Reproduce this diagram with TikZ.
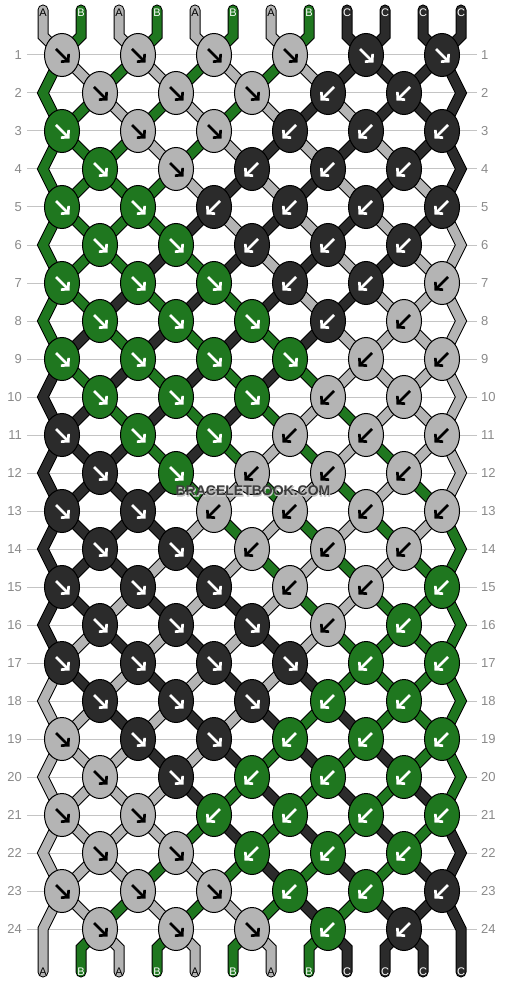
\documentclass[tikz,border=0pt]{standalone}
\usepackage{fontspec}
\setmainfont{Liberation Sans}
\newfontfamily\wmhalofont[FakeBold=4]{Liberation Sans Bold}
\usetikzlibrary{arrows.meta,shapes.geometric}
\definecolor{cola}{HTML}{B4B4B4}
\definecolor{colb}{HTML}{1F771F}
\definecolor{colc}{HTML}{2B2B2B}
\definecolor{arra}{HTML}{000000}
\definecolor{arrb}{HTML}{FFFFFF}
\definecolor{arrc}{HTML}{FFFFFF}
\definecolor{laba}{HTML}{000000}
\definecolor{labb}{HTML}{FFFFFF}
\definecolor{labc}{HTML}{FFFFFF}
\definecolor{gridc}{HTML}{C4C4C4}
\definecolor{numc}{HTML}{8A8A8A}
\definecolor{wmtext}{HTML}{3C3C3C}
\definecolor{wmhalo}{HTML}{C8C8C8}
\tikzset{
  knotshape/.style={ellipse, draw=black, line width=1pt, minimum width=35pt, minimum height=43pt, inner sep=0pt},
  strout/.style={line width=11pt, draw=black, line cap=round, line join=miter},
  strin/.style={line width=9pt, line cap=round, line join=miter},
  knotarrow/.style={line width=2.6pt, -{Straight Barb[length=5pt,width=11pt]}},
  rownum/.style={text=numc, font=\fontsize{13}{13}\selectfont, inner sep=0pt},
  endlabel/.style={font=\fontsize{11}{11}\selectfont, inner sep=0pt},
  gridline/.style={draw=gridc, line width=1pt},
  wm/.style={font=\bfseries\fontsize{14}{14}\selectfont, inner sep=0pt},
  wmh/.style={font=\wmhalofont\fontsize{14}{14}\selectfont, inner sep=0pt},
}
% build the path of the string that starts at position #1
\newcommand\stringpath[1]{%
  \xdef\curp{#1}%
  \xdef\plist{(top-#1) -- (tb-#1)}%
  \foreach \r in {1,...,24}{%
    \ifodd\r\relax
      \ifodd\curp\relax
        \pgfmathtruncatemacro\ki{(\curp+1)/2}\pgfmathtruncatemacro\np{\curp+1}%
      \else
        \pgfmathtruncatemacro\ki{\curp/2}\pgfmathtruncatemacro\np{\curp-1}%
      \fi
      \xdef\plist{\plist -- (k-\r-\ki)}%
    \else
      \ifnum\curp=1\relax
        \xdef\plist{\plist -- (eL-\r)}\def\np{1}%
      \else\ifnum\curp=12\relax
        \xdef\plist{\plist -- (eR-\r)}\def\np{12}%
      \else
        \ifodd\curp\relax
          \pgfmathtruncatemacro\ki{(\curp-1)/2}\pgfmathtruncatemacro\np{\curp-1}%
        \else
          \pgfmathtruncatemacro\ki{\curp/2}\pgfmathtruncatemacro\np{\curp+1}%
        \fi
        \xdef\plist{\plist -- (k-\r-\ki)}%
      \fi\fi
    \fi
    \xdef\curp{\np}%
  }%
  \xdef\plist{\plist -- (bb-\curp) -- (bot-\curp)}%
}
\begin{document}
\begin{tikzpicture}[x=1pt,y=-1pt]
\fill[white] (0,0) rectangle (506,984);
\useasboundingbox (0,0) rectangle (506,984);
% rows: grid lines, numbers, knot positions
\foreach \r in {1,...,24}{
  \pgfmathsetmacro\yy{55+38*(\r-1)}
  \ifodd\r\relax
    \foreach \i in {1,...,6}{\coordinate (k-\r-\i) at ({62+76*(\i-1)},\yy);}
  \else
    \foreach \i in {1,...,5}{\coordinate (k-\r-\i) at ({100+76*(\i-1)},\yy);}
  \fi
  \coordinate (eL-\r) at (43,\yy);
  \coordinate (eR-\r) at (461,\yy);
  \coordinate (gl-\r) at (27,\yy);
  \coordinate (gr-\r) at (477,\yy);
  \draw[gridline] (gl-\r) -- (gr-\r);
  \node[rownum, anchor=east] (nl-\r) at (22,\yy) {\r};
  \node[rownum, anchor=west] (nr-\r) at (481,\yy) {\r};
}
% string ends
\foreach \p in {1,...,12}{
  \pgfmathsetmacro\xx{43+38*(\p-1)}
  \coordinate (top-\p) at (\xx,10);
  \coordinate (tb-\p) at (\xx,36);
  \coordinate (bb-\p) at (\xx,948);
  \coordinate (bot-\p) at (\xx,972);
  \coordinate (tl-\p) at (\xx,13);
  \coordinate (bl-\p) at (\xx,971.5);
}
% strings
\foreach \p/\col in {1/cola,2/colb,3/cola,4/colb,5/cola,6/colb,7/cola,8/colb,9/colc,10/colc,11/colc,12/colc}{
  \stringpath{\p}
  \edef\tmp{\noexpand\draw[strout] \plist; \noexpand\draw[strin,draw=\col] \plist;}\tmp
}
% end labels
\foreach \p/\lab/\lc in {1/A/laba,2/B/labb,3/A/laba,4/B/labb,5/A/laba,6/B/labb,7/A/laba,8/B/labb,9/C/labc,10/C/labc,11/C/labc,12/C/labc}{
  \node[endlabel, text=\lc] (lt-\p) at (tl-\p) {\lab};
  \node[endlabel, text=\lc] (lb-\p) at (bl-\p) {\lab};
}
% knots
\foreach \row/\lst in {
 1/{a/R,a/R,a/R,a/R,c/R,c/R},
 2/{a/R,a/R,a/R,c/L,c/L},
 3/{b/R,a/R,a/R,c/L,c/L,c/L},
 4/{b/R,a/R,c/L,c/L,c/L},
 5/{b/R,b/R,c/L,c/L,c/L,c/L},
 6/{b/R,b/R,c/L,c/L,c/L},
 7/{b/R,b/R,b/R,c/L,c/L,a/L},
 8/{b/R,b/R,b/R,c/L,a/L},
 9/{b/R,b/R,b/R,b/R,a/L,a/L},
 10/{b/R,b/R,b/R,a/L,a/L},
 11/{c/R,b/R,b/R,a/L,a/L,a/L},
 12/{c/R,b/R,a/L,a/L,a/L},
 13/{c/R,c/R,a/L,a/L,a/L,a/L},
 14/{c/R,c/R,a/L,a/L,a/L},
 15/{c/R,c/R,c/R,a/L,a/L,b/L},
 16/{c/R,c/R,c/R,a/L,b/L},
 17/{c/R,c/R,c/R,c/R,b/L,b/L},
 18/{c/R,c/R,c/R,b/L,b/L},
 19/{a/R,c/R,c/R,b/L,b/L,b/L},
 20/{a/R,c/R,b/L,b/L,b/L},
 21/{a/R,a/R,b/L,b/L,b/L,b/L},
 22/{a/R,a/R,b/L,b/L,b/L},
 23/{a/R,a/R,a/R,b/L,b/L,c/L},
 24/{a/R,a/R,a/R,b/L,c/L}}{
  \foreach \kc/\dir [count=\i] in \lst {
    \node[knotshape, fill=col\kc] (kn-\row-\i) at (k-\row-\i) {};
    \if R\dir
      \draw[knotarrow, draw=arr\kc] ([shift={(-6,-6)}]kn-\row-\i.center) -- ([shift={(7.5,7.5)}]kn-\row-\i.center);
    \else
      \draw[knotarrow, draw=arr\kc] ([shift={(6,-6)}]kn-\row-\i.center) -- ([shift={(-7.5,7.5)}]kn-\row-\i.center);
    \fi
  }
}
% watermark (light halo, then dark letters)
\node[wmh, text=wmhalo] (wmhalo) at (253.5,491.5) {BRACELETBOOK.COM};
\node[wm, text=wmtext] (wm) at (253,491) {BRACELETBOOK.COM};
\end{tikzpicture}
\end{document}
